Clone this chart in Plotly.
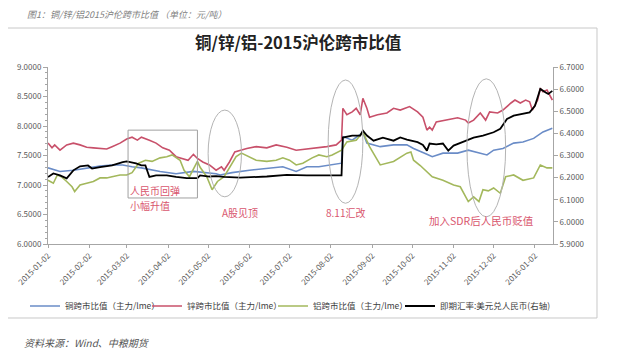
import plotly.graph_objects as go

# ---------------- data ----------------
zinc_dates = ["2015-01-02","2015-01-05","2015-01-07","2015-01-11","2015-01-16","2015-01-21","2015-01-26","2015-01-31",
              "2015-02-05","2015-02-10","2015-02-15","2015-02-19","2015-02-25","2015-03-02","2015-03-06","2015-03-10",
              "2015-03-13","2015-03-19","2015-03-24","2015-03-29","2015-04-03","2015-04-08","2015-04-13","2015-04-17",
              "2015-04-21","2015-04-24","2015-04-28","2015-05-03","2015-05-08","2015-05-12","2015-05-14","2015-05-18",
              "2015-05-22","2015-05-26","2015-05-31","2015-06-07","2015-06-15","2015-06-22","2015-06-30","2015-07-07",
              "2015-07-15","2015-07-22","2015-07-30","2015-08-06","2015-08-10","2015-08-11","2015-08-14","2015-08-18",
              "2015-08-21","2015-08-24","2015-08-26","2015-08-29","2015-08-31","2015-09-06","2015-09-13","2015-09-18",
              "2015-09-23","2015-09-30","2015-10-06","2015-10-10","2015-10-13","2015-10-15","2015-10-17","2015-10-20",
              "2015-10-28","2015-11-05","2015-11-11","2015-11-13","2015-11-17","2015-11-22","2015-11-26","2015-11-29",
              "2015-12-05","2015-12-09","2015-12-15","2015-12-18","2015-12-22","2015-12-26","2015-12-29","2015-12-31",
              "2016-01-04","2016-01-06","2016-01-08","2016-01-11","2016-01-15"]
zinc_vals = [7.71,7.63,7.68,7.59,7.68,7.71,7.68,7.64,
             7.63,7.62,7.61,7.65,7.71,7.78,7.81,7.76,
             7.81,7.76,7.71,7.63,7.59,7.48,7.45,7.42,
             7.52,7.45,7.39,7.34,7.25,7.31,7.25,7.39,
             7.56,7.59,7.62,7.65,7.63,7.68,7.64,7.59,
             7.61,7.63,7.65,7.68,7.76,8.30,8.19,8.24,
             8.30,8.19,8.47,8.30,8.15,8.19,8.22,8.30,
             8.27,8.33,8.24,8.15,7.93,7.98,7.93,8.07,
             8.10,8.14,8.10,8.05,8.10,8.22,8.10,8.24,
             8.22,8.27,8.39,8.44,8.39,8.44,8.41,8.27,
             8.44,8.64,8.58,8.61,8.44]

copper_dates = ["2015-01-02","2015-01-11","2015-01-21","2015-01-31","2015-02-10","2015-02-19","2015-02-27","2015-03-06",
                "2015-03-13","2015-03-27","2015-04-08","2015-04-21","2015-05-01","2015-05-08","2015-05-11","2015-05-20",
                "2015-06-02","2015-06-15","2015-06-27","2015-07-07","2015-07-15","2015-07-24","2015-08-03","2015-08-10",
                "2015-08-11","2015-08-18","2015-08-26","2015-08-29","2015-09-08","2015-09-18","2015-09-28","2015-10-03",
                "2015-10-13","2015-10-17","2015-10-25","2015-11-05","2015-11-13","2015-11-22","2015-11-27","2015-12-02",
                "2015-12-09","2015-12-17","2015-12-24","2016-01-01","2016-01-08","2016-01-15"]
copper_vals = [7.29,7.23,7.25,7.29,7.32,7.34,7.34,7.31,
               7.29,7.23,7.19,7.23,7.21,7.19,7.17,7.21,
               7.25,7.28,7.31,7.23,7.31,7.31,7.34,7.37,
               7.82,7.76,7.89,7.71,7.65,7.68,7.68,7.62,
               7.52,7.48,7.54,7.54,7.59,7.54,7.51,7.59,
               7.62,7.71,7.73,7.79,7.90,7.96]

alu_dates = ["2015-01-02","2015-01-06","2015-01-09","2015-01-12","2015-01-16","2015-01-20","2015-01-22","2015-01-26",
             "2015-01-31","2015-02-05","2015-02-10","2015-02-15","2015-02-19","2015-02-25","2015-03-02","2015-03-06",
             "2015-03-11","2015-03-16","2015-03-21","2015-03-27","2015-04-01","2015-04-05","2015-04-11","2015-04-14",
             "2015-04-18","2015-04-24","2015-04-26","2015-04-28","2015-05-01","2015-05-05","2015-05-07","2015-05-09",
             "2015-05-14","2015-05-18","2015-05-23","2015-05-27","2015-06-02","2015-06-07","2015-06-15","2015-06-22",
             "2015-06-27","2015-07-02","2015-07-07","2015-07-12","2015-07-19","2015-07-24","2015-07-30","2015-08-03",
             "2015-08-10","2015-08-14","2015-08-21","2015-08-26","2015-08-31","2015-09-08","2015-09-18","2015-09-28",
             "2015-10-01","2015-10-03","2015-10-08","2015-10-13","2015-10-17","2015-10-25","2015-11-02","2015-11-07",
             "2015-11-11","2015-11-13","2015-11-17","2015-11-21","2015-11-24","2015-11-28","2015-12-02","2015-12-07",
             "2015-12-11","2015-12-17","2015-12-24","2016-01-01","2016-01-06","2016-01-11","2016-01-15"]
alu_vals = [7.08,7.03,7.17,7.14,7.06,6.97,6.89,7.00,
            7.03,7.06,7.12,7.12,7.14,7.17,7.17,7.21,
            7.37,7.42,7.40,7.46,7.48,7.51,7.42,7.25,
            7.14,7.40,7.30,7.23,7.14,6.92,7.00,7.06,
            7.14,7.29,7.48,7.54,7.48,7.42,7.40,7.42,
            7.46,7.42,7.34,7.37,7.46,7.51,7.48,7.51,
            7.59,7.73,7.76,7.90,7.65,7.34,7.40,7.54,
            7.56,7.42,7.33,7.23,7.14,7.08,7.00,6.97,
            6.80,6.72,6.80,6.72,6.92,6.90,6.95,6.86,
            7.14,7.17,7.08,7.12,7.34,7.29,7.29]

fx_dates = ["2015-01-02","2015-01-06","2015-01-11","2015-01-16","2015-01-21","2015-01-26","2015-02-01","2015-02-04",
            "2015-02-10","2015-02-19","2015-02-27","2015-03-02","2015-03-09","2015-03-13","2015-03-16","2015-03-19",
            "2015-03-24","2015-04-01","2015-04-08","2015-04-16","2015-04-24","2015-04-26","2015-05-03","2015-05-08",
            "2015-05-14","2015-05-26","2015-06-15","2015-06-30","2015-07-15","2015-07-30","2015-08-10","2015-08-11",
            "2015-08-18","2015-08-24","2015-08-26","2015-08-29","2015-09-03","2015-09-10","2015-09-18","2015-09-23",
            "2015-09-28","2015-10-06","2015-10-10","2015-10-13","2015-10-15","2015-10-20","2015-10-25","2015-10-29",
            "2015-11-02","2015-11-10","2015-11-17","2015-11-24","2015-12-02","2015-12-07","2015-12-12","2015-12-17",
            "2015-12-24","2015-12-29","2016-01-02","2016-01-05","2016-01-06","2016-01-10","2016-01-12","2016-01-15"]
fx_vals = [6.203,6.219,6.210,6.197,6.233,6.251,6.255,6.241,
           6.247,6.255,6.270,6.273,6.264,6.255,6.255,6.203,
           6.210,6.210,6.203,6.198,6.198,6.210,6.205,6.207,
           6.203,6.200,6.205,6.212,6.210,6.210,6.210,6.381,
           6.390,6.390,6.412,6.390,6.367,6.381,6.367,6.382,
           6.372,6.360,6.348,6.322,6.354,6.350,6.354,6.322,
           6.345,6.364,6.381,6.390,6.405,6.421,6.465,6.480,
           6.487,6.495,6.525,6.578,6.601,6.585,6.578,6.592]

tick_dates = ["2015-01-02","2015-02-02","2015-03-02","2015-04-02","2015-05-02","2015-06-02","2015-07-02",
              "2015-08-02","2015-09-02","2015-10-02","2015-11-02","2015-12-02","2016-01-02"]

series_names = ["铜跨市比值（主力/lme）", "锌跨市比值（主力/lme）", "铝跨市比值（主力/lme）", "即期汇率:美元兑人民币(右轴)"]

FONT = "Noto Sans CJK SC"
RED_TXT = "#d9566e"
AX = "#a6a6a6"
TICKC = "#595959"

fig = go.Figure()
fig.add_trace(go.Scatter(x=copper_dates, y=copper_vals, mode="lines", name=series_names[0], legend="legend",
                         line=dict(color="#6a8cc7", width=1.6)))
fig.add_trace(go.Scatter(x=zinc_dates, y=zinc_vals, mode="lines", name=series_names[1], legend="legend2",
                         line=dict(color="#c8506a", width=1.6)))
fig.add_trace(go.Scatter(x=alu_dates, y=alu_vals, mode="lines", name=series_names[2], legend="legend3",
                         line=dict(color="#a3b85c", width=1.6)))
fig.add_trace(go.Scatter(x=fx_dates, y=fx_vals, mode="lines", name=series_names[3], yaxis="y2", legend="legend4",
                         line=dict(color="#000000", width=1.8)))

shapes = [
    # outer frame
    dict(type="rect", xref="paper", yref="paper", x0=-0.0871, x1=1.0871, y0=-0.418, y1=1.2203,
         line=dict(color="#c8c8c8", width=1), layer="below"),
    # box
    dict(type="rect", xref="x", yref="y", x0="2015-03-03", x1="2015-04-24", y0=6.78, y1=7.93,
         line=dict(color="#a0a0a0", width=1)),
    dict(type="circle", xref="x", yref="y", x0="2015-05-02", x1="2015-05-27", y0=6.80, y1=8.27,
         line=dict(color="#b4b4b4", width=1)),
    dict(type="circle", xref="x", yref="y", x0="2015-07-31", x1="2015-08-26", y0=6.69, y1=8.78,
         line=dict(color="#b4b4b4", width=1)),
    dict(type="circle", xref="x", yref="y", x0="2015-11-12", x1="2015-12-11", y0=6.46, y1=8.80,
         line=dict(color="#b4b4b4", width=1)),
]

annotations = [
    dict(text="<b>铜/锌/铝-2015沪伦跨市比值</b>", xref="paper", yref="paper", x=0.495, y=1.141,
         xanchor="center", yanchor="middle", showarrow=False, font=dict(size=16.5, color="#222222", family=FONT)),
    dict(text="<i>图1：铜/锌/铝2015沪伦跨市比值 （单位：元/吨）</i>", xref="paper", yref="paper", x=-0.0455, y=1.294,
         xanchor="left", yanchor="middle", showarrow=False, font=dict(size=9, color="#808080", family=FONT)),
    dict(text="<i>资料来源：Wind、中粮期货</i>", xref="paper", yref="paper", x=-0.0515, y=-0.554,
         xanchor="left", yanchor="middle", showarrow=False, font=dict(size=10, color="#555555", family=FONT)),
    dict(text="人民币回弹", xref="x", yref="y", x="2015-03-03", y=6.90, xanchor="left", yanchor="middle",
         showarrow=False, font=dict(size=10, color=RED_TXT, family=FONT)),
    dict(text="小幅升值", xref="x", yref="y", x="2015-03-03", y=6.66, xanchor="left", yanchor="middle",
         showarrow=False, font=dict(size=10, color=RED_TXT, family=FONT)),
    dict(text="A股见顶", xref="x", yref="y", x="2015-05-26", y=6.54, xanchor="center", yanchor="middle",
         showarrow=False, font=dict(size=10, color=RED_TXT, family=FONT)),
    dict(text="8.11汇改", xref="x", yref="y", x="2015-08-13", y=6.54, xanchor="center", yanchor="middle",
         showarrow=False, font=dict(size=10, color=RED_TXT, family=FONT)),
    dict(text="加入SDR后人民币贬值", xref="x", yref="y", x="2015-11-23", y=6.39, xanchor="center", yanchor="middle",
         showarrow=False, font=dict(size=10.5, color=RED_TXT, family=FONT)),
]

# the page body adds an 8 px offset; figure coordinates are window coordinates minus 8
LEG_Y = (361 - 298) / 361


def legend_at(px_left):
    return dict(orientation="h", xref="container", x=px_left / 640, xanchor="left",
                yref="container", y=LEG_Y, yanchor="middle", itemwidth=30,
                font=dict(size=8.5, color="#404040", family=FONT), bgcolor="rgba(0,0,0,0)")


fig.update_layout(
    width=640, height=361,
    margin=dict(l=40, r=95, t=59, b=125, autoexpand=False),
    paper_bgcolor="white", plot_bgcolor="white",
    font=dict(family=FONT, size=8, color=TICKC),
    showlegend=True,
    legend=legend_at(17),
    legend2=legend_at(139),
    legend3=legend_at(265),
    legend4=legend_at(392),
    xaxis=dict(type="date", range=["2015-01-02", "2016-01-15 12:00"], tickvals=tick_dates, ticktext=tick_dates,
               tickangle=-45, tickfont=dict(size=8, color=TICKC), showline=True, linecolor=AX, linewidth=1,
               ticks="outside", ticklen=3, tickcolor=AX, showgrid=False, zeroline=False),
    yaxis=dict(range=[6, 9], dtick=0.5, tickformat=".4f", showline=True, linecolor=AX, linewidth=1,
               ticks="outside", ticklen=4, tickcolor=AX, showgrid=False, zeroline=False,
               tickfont=dict(size=8, color=TICKC),
               minor=dict(dtick=0.1, ticks="outside", ticklen=2, tickcolor=AX)),
    yaxis2=dict(range=[5.9, 6.7], dtick=0.1, tickformat=".4f", overlaying="y", side="right",
                showline=True, linecolor=AX, linewidth=1, ticks="outside", ticklen=4, tickcolor=AX,
                showgrid=False, zeroline=False, tickfont=dict(size=8, color=TICKC)),
    shapes=shapes,
    annotations=annotations,
)

fig.write_html("out.html")
